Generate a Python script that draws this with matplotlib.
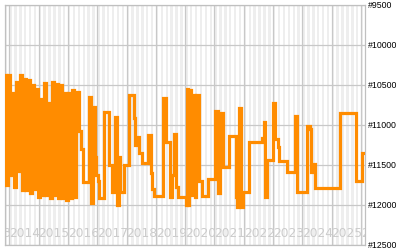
import matplotlib
matplotlib.use("Agg")
import matplotlib.pyplot as plt
import matplotlib.transforms as mtransforms

plt.rcParams["path.simplify"] = False

# ---- data (time in decimal years, value) ----
years = [
    2013.819, 2013.887, 2013.956, 2014.024, 2014.092, 2014.160, 2014.229, 2014.297,
    2014.365, 2014.433, 2014.502, 2014.570, 2014.638, 2014.706, 2014.775, 2014.843,
    2014.911, 2014.980, 2015.048, 2015.116, 2015.184, 2015.253, 2015.321, 2015.389,
    2015.457, 2015.526, 2015.594, 2015.662, 2015.730, 2015.799, 2015.867, 2015.935,
    2016.003, 2016.072, 2016.140, 2016.208, 2016.276,
    2016.362, 2016.430, 2016.532, 2016.737, 2016.788, 2016.840, 2016.908, 2016.942,
    2017.027, 2017.061, 2017.215, 2017.413, 2017.505, 2017.608, 2017.676, 2017.727,
    2017.761, 2017.915, 2018.075, 2018.266, 2018.307, 2018.348, 2018.427, 2018.519,
    2018.734, 2018.819, 2018.870, 2018.939, 2019.246, 2019.348, 2019.485, 2019.553,
    2019.604, 2019.689, 2019.758, 2020.014, 2020.048, 2020.099, 2020.150, 2020.201,
    2020.253, 2020.321, 2020.389, 2020.491, 2020.577, 2020.782, 2021.020, 2021.106,
    2021.191, 2021.294, 2021.498, 2021.737, 2021.771, 2021.823, 2021.891, 2021.976,
    2022.181, 2022.625, 2022.676, 2022.727, 2022.795, 2023.017, 2023.068, 2023.154,
    2023.205, 2023.468, 2023.751, 2023.819, 2024.160, 2024.263, 2024.297, 2024.365,
    2024.433, 2025.287, 2025.833, 2026.027, 2026.300,
]
values = [
    10380, 11750, 10380, 11620, 10600, 11770, 10460, 11580,
    10380, 11810, 10420, 11810, 10440, 11850, 10500, 11800,
    10550, 11900, 10680, 11870, 10480, 11870, 10720, 11910,
    10460, 11880, 10490, 11910, 10500, 11910, 10600, 11940,
    10600, 11910, 10560, 11900, 10590,
    11070, 11300, 11710, 10650, 11975, 10770, 11400, 11625,
    11700, 11910, 10840, 11500, 11840, 10900, 12000, 11400,
    11840, 11500, 10625, 10910, 11250, 11150, 11350, 11480,
    11125, 11600, 11800, 11890, 10660, 11210, 11900, 11620,
    11110, 11780, 11900, 12000, 10550, 12000, 10560, 11870,
    10620, 11900, 10620, 11700, 11890, 11675, 10830, 11850,
    10850, 11525, 11140, 11900, 12025, 10790, 12025, 11840,
    11210, 11160, 10960, 11900, 11440, 10730, 11180, 11270,
    11450, 11590, 10890, 11840, 11010, 11050, 11590, 11490,
    11790, 10850, 11700, 11350, 11350,
]
year_labels = list(range(2013, 2027))
y_ticks = [9500, 10000, 10500, 11000, 11500, 12000, 12500]

fig = plt.figure(figsize=(4.0, 2.5), dpi=100)
ax = fig.add_axes([5 / 400, 5 / 250, 360 / 400, 240 / 250])
ax.set_facecolor("white")

ax.set_xlim(2013.853, 2026.140)
ax.set_ylim(12500, 9500)

# alternating monthly bands
for y in range(2013, 2027):
    for m in range(0, 12, 2):
        ax.axvspan(y + m / 12, y + (m + 1) / 12, color="#eeeeee", lw=0, zorder=0)

# major gridlines
for y in year_labels:
    ax.axvline(y, color="#c8c8c8", lw=0.9, zorder=1)
for v in y_ticks:
    ax.axhline(v, color="#c8c8c8", lw=0.9, zorder=1)

ax.plot(years, values, drawstyle="steps-post", color="#ff8c00", lw=2.3,
        solid_joinstyle="miter", zorder=3)

# year labels inside the plot, left-aligned at Jan 1
trans = mtransforms.blended_transform_factory(ax.transData, ax.transAxes)
for y in year_labels:
    ax.text(y, 0.02, str(y), transform=trans, ha="left", va="bottom",
            fontsize=8.8, color="#cccccc", clip_on=True, zorder=2)

ax.set_xticks([])
ax.yaxis.tick_right()
ax.set_yticks(y_ticks)
ax.set_yticklabels(["#%d" % v for v in y_ticks], fontsize=6.3,
                   family=["Liberation Sans", "DejaVu Sans"])
ax.tick_params(axis="y", length=0, pad=2.2, colors="black")

for s in ax.spines.values():
    s.set_color("#c0c0c0")
    s.set_linewidth(0.9)

fig.savefig("out.png", dpi=100)
